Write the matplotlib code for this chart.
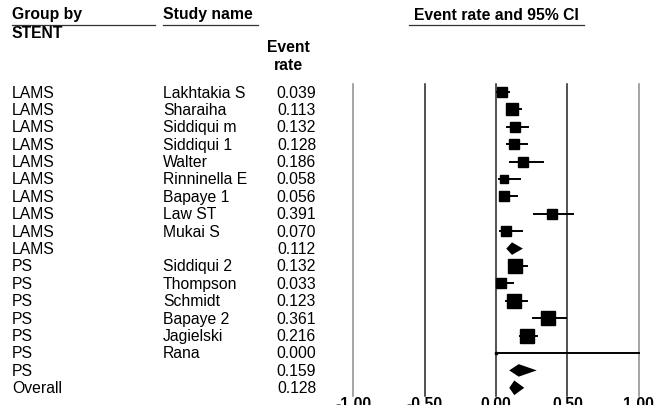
import matplotlib
matplotlib.use("Agg")
import matplotlib.pyplot as plt
import numpy as np

plt.rcParams['font.family'] = ['Liberation Sans', 'DejaVu Sans']

groups = ["LAMS"] * 10 + ["PS"] * 7 + ["Overall"]
studies = ["Lakhtakia S", "Sharaiha", "Siddiqui m", "Siddiqui 1", "Walter",
           "Rinninella E", "Bapaye 1", "Law ST", "Mukai S", "",
           "Siddiqui 2", "Thompson", "Schmidt", "Bapaye 2", "Jagielski", "Rana", "",
           ""]
rates = [0.039, 0.113, 0.132, 0.128, 0.186, 0.058, 0.056, 0.391, 0.070, 0.112,
         0.132, 0.033, 0.123, 0.361, 0.216, 0.000, 0.159, 0.128]
lower = [0.010, 0.080, 0.078, 0.075, 0.100, 0.022, 0.025, 0.268, 0.025, 0.072,
         0.092, 0.008, 0.072, 0.258, 0.165, 0.000, 0.093, 0.093]
upper = [0.090, 0.178, 0.225, 0.215, 0.330, 0.165, 0.145, 0.540, 0.185, 0.188,
         0.215, 0.120, 0.218, 0.490, 0.285, 1.000, 0.285, 0.198]
is_summary = [False] * 9 + [True] + [False] * 6 + [True, True]
weights = [7.5, 8.3, 7.2, 7.7, 7.2, 6.0, 6.5, 7.4, 6.7, 0,
           9.6, 6.7, 9.6, 9.4, 9.8, 2.0, 0, 0]
xticks = [-1.0, -0.5, 0.0, 0.5, 1.0]
xtick_labels = ["-1.00", "-0.50", "0.00", "0.50", "1.00"]

W, H = 654, 406
fig = plt.figure(figsize=(W / 100, H / 100), dpi=100)
ax = fig.add_axes([0, 0, 1, 1])
ax.set_axis_off()

# pixel mapping: x value 0 at px 496, 0.5 unit = 71.4 px
x0px, unit = 496.0, 142.8
ax.set_xlim((0 - x0px) / unit, (W - x0px) / unit)
row0, rstep = 93.0, 17.4
ax.set_ylim((H - row0) / rstep, (0 - row0) / rstep)

def py(p):
    return (p - row0) / rstep

tr = ax.get_yaxis_transform()
fs = 11.3

# vertical reference lines
for xv in xticks:
    col = '#8a8a8a' if abs(xv) == 1.0 else '#222222'
    ax.plot([xv, xv], [py(85), py(397)], color=col, lw=1.1, zorder=1)
for xv, lab in zip(xticks, xtick_labels):
    ax.text(xv, py(397.5), lab, ha='center', va='top', fontsize=fs,
            fontweight='bold', color='black')

# headers
ax.text(12 / W, py(15), "Group by", transform=tr, fontsize=fs, fontweight='bold', va='center')
ax.plot([12 / W, 155 / W], [py(26), py(26)], transform=tr, color='#333', lw=0.9)
ax.text(163 / W, py(15), "Study name", transform=tr, fontsize=fs, fontweight='bold', va='center')
ax.plot([163 / W, 258 / W], [py(26), py(26)], transform=tr, color='#333', lw=0.9)
ax.text(496.7 / W, py(15), "Event rate and 95% CI", transform=tr, fontsize=fs,
        fontweight='bold', va='center', ha='center')
ax.plot([409 / W, 584 / W], [py(26), py(26)], transform=tr, color='#333', lw=0.9)
ax.text(12 / W, py(34), "STENT", transform=tr, fontsize=fs, fontweight='bold', va='center')
ax.text(288 / W, py(48), "Event", transform=tr, fontsize=fs, fontweight='bold', va='center', ha='center')
ax.text(288 / W, py(65), "rate", transform=tr, fontsize=fs, fontweight='bold', va='center', ha='center')

for i in range(len(rates)):
    ax.text(12 / W, i, groups[i], transform=tr, fontsize=fs, va='center')
    ax.text(163 / W, i, studies[i], transform=tr, fontsize=fs, va='center')
    ax.text(316 / W, i, f"{rates[i]:.3f}", transform=tr, fontsize=fs, va='center', ha='right')
    if is_summary[i]:
        h = 0.36 if i < len(rates) - 1 else 0.42
        ax.fill([lower[i], rates[i], upper[i], rates[i]], [i, i - h, i, i + h],
                color='black', zorder=3, lw=0)
    else:
        ax.plot([lower[i], upper[i]], [i, i], color='black', lw=1.4, zorder=2)
        ax.plot(rates[i], i, marker='s', color='black', markersize=weights[i], zorder=3)

fig.savefig("out.png", dpi=100)
